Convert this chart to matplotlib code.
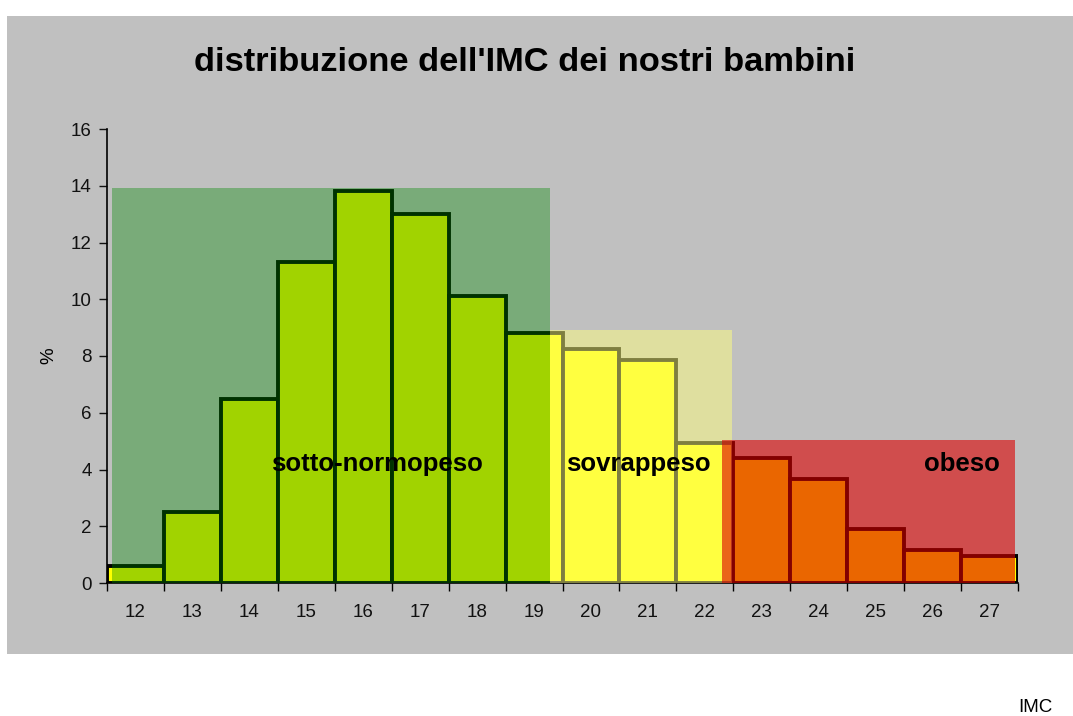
import matplotlib.pyplot as plt
from matplotlib.patches import Rectangle

plt.rcParams['font.family'] = ['Liberation Sans', 'DejaVu Sans']

# IMC classes and share of children (%)
imc = ["12", "13", "14", "15", "16", "17", "18", "19",
       "20", "21", "22", "23", "24", "25", "26", "27"]
percent = [0.6, 2.5, 6.5, 11.3, 13.8, 13.0, 10.1, 8.8,
           8.25, 7.85, 4.95, 4.4, 3.65, 1.9, 1.15, 0.95]

# shaded weight zones (in bar index units) and their label
zone_names = ["sotto-normopeso", "sovrappeso", "obeso"]
zone_start = [-0.41, 7.28, 10.30]
zone_end = [7.28, 10.48, 15.45]
zone_top = [13.92, 8.9, 5.05]
zone_colors = ["#008800", "#ffff80", "#dc0000"]
zone_alpha = [0.37, 0.5, 0.6]
label_x = [4.24, 8.83, 14.52]
label_y = [4.2, 4.2, 4.2]

fig = plt.figure(figsize=(10.73, 7.16), dpi=100)
fig.patch.set_facecolor("white")
fig.patches.append(Rectangle((7 / 1073, 62 / 716), 1.0, 638 / 716,
                             transform=fig.transFigure, facecolor="#c0c0c0",
                             edgecolor="none", zorder=-5))

ax = fig.add_axes([107 / 1073, 133 / 716, 911 / 1073, 454 / 716])
ax.set_zorder(2)
ax.set_facecolor("none")

x = list(range(len(imc)))
ax.bar(x, percent, width=1.0, color="#ffff00", edgecolor="black",
       linewidth=2.8, zorder=2)

for i in range(len(zone_names)):
    ax.add_patch(Rectangle((zone_start[i], 0), zone_end[i] - zone_start[i], zone_top[i],
                           facecolor=zone_colors[i], alpha=zone_alpha[i],
                           edgecolor="none", zorder=3))
    ax.text(label_x[i], label_y[i], zone_names[i], ha="center", va="center",
            fontsize=18.5, fontweight="bold", color="black", zorder=5)

ax.set_xlim(-0.5, 15.5)
ax.set_ylim(0, 16)
ax.set_yticks(range(0, 17, 2))
ax.set_xticks(x)
ax.set_xticklabels(imc)
ax.set_xticks([i - 0.5 for i in range(len(imc) + 1)], minor=True)
ax.tick_params(axis="x", which="major", length=0, pad=15, labelsize=13.5, colors="#111111")
ax.tick_params(axis="x", which="minor", length=6, width=1, color="black")
ax.tick_params(axis="y", length=6, width=1, labelsize=13.5, colors="#111111", pad=5)
for s in ["top", "right"]:
    ax.spines[s].set_visible(False)
ax.spines["left"].set_linewidth(1.2)
ax.spines["bottom"].set_linewidth(1.2)

ax.set_ylabel("%", fontsize=13.5, labelpad=10)
fig.text(0.489, 0.913, "distribuzione dell'IMC dei nostri bambini", ha="center",
         va="center", fontsize=24.8, fontweight="bold")
fig.text(1035 / 1073, 9 / 716, "IMC", ha="center", va="center", fontsize=13.5)

plt.savefig("out.png", dpi=100)
